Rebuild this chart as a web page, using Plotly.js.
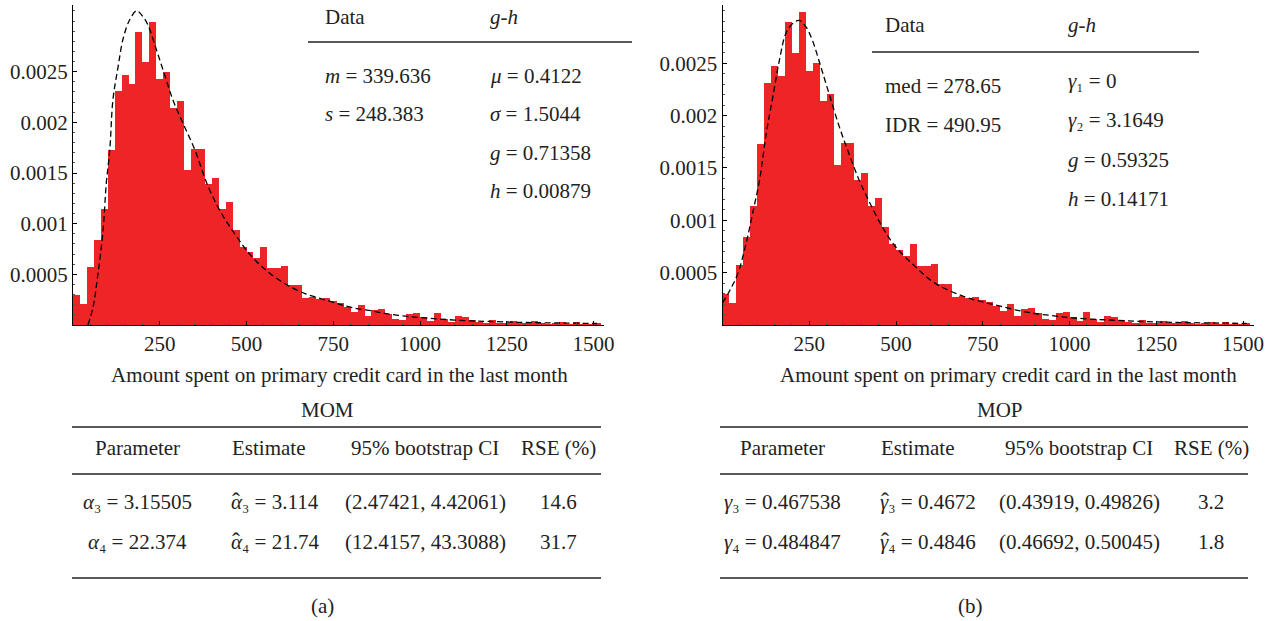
<!DOCTYPE html>
<html>
<head>
<meta charset="utf-8">
<script src="https://cdn.plot.ly/plotly-3.0.1.min.js"></script>
<style>html,body{margin:0;padding:0;background:#fff;}#chart{width:1274px;height:621px;}</style>
</head>
<body>
<div id="chart"></div>
<script>
// ---- data ----
const binLeft = [0,20,40,60,80,100,120,140,160,180,200,220,240,260,280,300,320,340,360,380,
  400,420,440,460,480,500,520,540,560,580,600,620,640,660,680,700,720,740,760,780,
  800,820,840,860,880,900,920,940,960,980,1000,1020,1040,1060,1080,1100,1120,1140,1160,1180,
  1200,1220,1240,1260,1280,1300,1320,1340,1360,1380,1400,1420,1440,1460,1480,1500];
const density = [0.00030,0.00021,0.00057,0.00084,0.00114,0.00173,0.00231,0.00247,0.00238,0.00289,
  0.00260,0.00299,0.00243,0.00250,0.00214,0.00221,0.00153,0.00174,0.00174,0.00139,
  0.00145,0.00114,0.00121,0.00094,0.00077,0.00072,0.00066,0.00077,0.00056,0.00056,
  0.00058,0.00039,0.00039,0.00027,0.00028,0.00026,0.00027,0.00024,0.00022,0.00018,
  0.00013,0.00020,0.00009,0.00015,0.00016,0.00011,0.00006,0.00005,0.00011,0.00012,
  0.00008,0.00004,0.00012,0.00006,0.00003,0.00009,0.00008,0.00005,0.00003,0.00002,
  0.00005,0.00002,0.00002,0.00004,0.00002,0.00002,0.00004,0.00002,0.00001,0.00002,
  0.00003,0.00001,0.00003,0.00001,0.00001,0.00002];

const momX = [43,58,72,86,96,106,115,130,144,163,183,200,216,240,264,288,317,351,389,428,466,504,543,600,668,735,783,821,860,898,937,975,1014,1052,1129,1200,1300,1400,1510];
const momY = [0,0.00018,0.00051,0.00091,0.0014,0.00173,0.00222,0.00255,0.00282,0.00301,0.0031,0.00305,0.00296,0.00272,0.00247,0.00222,0.00199,0.00173,0.00137,0.0011,0.0009,0.00072,0.00058,0.00043,0.00031,0.00024,0.00019,0.00016,0.00014,0.000115,0.000095,0.00008,0.00007,0.00006,0.000043,0.000035,0.000025,0.00002,0.000015];

const mopX = [0,21,44,68,87,107,126,145,164,183,202,221,240,259,283,307,336,364,393,421,460,498,555,612,698,750,800,850,900,950,1000,1100,1200,1300,1400,1510];
const mopY = [0.00021,0.00033,0.00049,0.00078,0.00107,0.00139,0.00183,0.00218,0.00253,0.00279,0.00288,0.00291,0.00285,0.00272,0.00247,0.00221,0.0019,0.00164,0.00139,0.00119,0.00094,0.00075,0.00056,0.0004,0.00027,0.00022,0.00018,0.00014,0.00011,0.00009,0.00007,0.00005,0.000035,0.000025,0.00002,0.000015];

const xTickVals = [250,500,750,1000,1250,1500];
const xTickText = ["250","500","750","1000","1250","1500"];
const yTickVals = [0.0005,0.001,0.0015,0.002,0.0025];
const yTickText = ["0.0005","0.001","0.0015","0.002","0.0025"];
const xTitle = "Amount spent on primary credit card in the last month";

const insetLeftData = ["<i>m</i> = 339.636", "<i>s</i> = 248.383"];
const insetLeftGH = ["<i>μ</i> = 0.4122", "<i>σ</i> = 1.5044", "<i>g</i> = 0.71358", "<i>h</i> = 0.00879"];
const insetRightData = ["med = 278.65", "IDR = 490.95"];
const insetRightGH = ["<i>γ</i>₁ = 0", "<i>γ</i>₂ = 3.1649", "<i>g</i> = 0.59325", "<i>h</i> = 0.14171"];

const tableHeader = ["Parameter", "Estimate", "95% bootstrap CI", "RSE (%)"];
const momRows = [
  ["<i>α</i>₃ = 3.15505", "<i>α</i>₃ = 3.114", "(2.47421, 4.42061)", "14.6"],
  ["<i>α</i>₄ = 22.374", "<i>α</i>₄ = 21.74", "(12.4157, 43.3088)", "31.7"]
];
const mopRows = [
  ["<i>γ</i>₃ = 0.467538", "<i>γ</i>₃ = 0.4672", "(0.43919, 0.49826)", "3.2"],
  ["<i>γ</i>₄ = 0.484847", "<i>γ</i>₄ = 0.4846", "(0.46692, 0.50045)", "1.8"]
];
const hatMark = "ˆ";

// ---- layout helpers ----
const W = 1274, H = 621;
const px = v => v / W;
const py = v => 1 - v / H;
const FONT = "Liberation Serif, Times New Roman, serif";
const FS = 21;
const TXT = "#222";
const RED = "#ee2426";

const traces = [
  {type:"bar", x:binLeft, y:density, offset:0, width:20, xaxis:"x", yaxis:"y",
   marker:{color:RED, line:{width:0}}, hoverinfo:"skip"},
  {type:"scatter", mode:"lines", x:momX, y:momY, xaxis:"x", yaxis:"y",
   line:{color:"#000", width:1.3, dash:"6px,3.5px", shape:"spline"}, hoverinfo:"skip"},
  {type:"bar", x:binLeft, y:density, offset:0, width:20, xaxis:"x2", yaxis:"y2",
   marker:{color:RED, line:{width:0}}, hoverinfo:"skip"},
  {type:"scatter", mode:"lines", x:mopX, y:mopY, xaxis:"x2", yaxis:"y2",
   line:{color:"#000", width:1.3, dash:"6px,3.5px", shape:"spline"}, hoverinfo:"skip"}
];

function xAxis(domain, anchor){
  return {domain:domain, anchor:anchor, range:[0,1530], showgrid:false, zeroline:false,
    showline:true, linecolor:"#000", linewidth:1, ticks:"inside", ticklen:4, tickcolor:"#000",
    tickvals:xTickVals, ticktext:xTickText, tickfont:{family:FONT, size:FS, color:TXT},
    minor:{ticks:"inside", ticklen:2, dtick:50, tickcolor:"#555", showgrid:false}};
}
function yAxis(domain, anchor, top){
  return {domain:domain, anchor:anchor, range:[0,top], showgrid:false, zeroline:false,
    showline:true, linecolor:"#000", linewidth:1, ticks:"inside", ticklen:4, tickcolor:"#000",
    tickvals:yTickVals, ticktext:yTickText, tickfont:{family:FONT, size:FS, color:TXT},
    minor:{ticks:"inside", ticklen:2, dtick:0.0001, tickcolor:"#555", showgrid:false}};
}

const yDom = [py(325), py(5)];
const annotations = [];
const shapes = [];
function txt(x, y, t, anchor, size){
  annotations.push({xref:"paper", yref:"paper", x:px(x), y:py(y), text:t, showarrow:false,
    xanchor:anchor||"center", yanchor:"middle", font:{family:FONT, size:size||FS, color:TXT}});
}
function rule(x0, x1, y){
  shapes.push({type:"line", xref:"paper", yref:"paper", x0:px(x0), x1:px(x1), y0:py(y), y1:py(y),
    line:{color:"#222", width:1.5}});
}

// axis titles
txt(339, 375, xTitle);
txt(1008, 375, xTitle);

// left inset
txt(323, 17, "Data", "left");
txt(488, 17, "<i>g-h</i>", "left");
rule(308, 632, 42);
insetLeftData.forEach((t,i)=>txt(323, 76 + i*37.5, t, "left"));
insetLeftGH.forEach((t,i)=>txt(488, 76 + i*38.3, t, "left"));

// right inset
txt(883, 25, "Data", "left");
txt(1066, 25, "<i>g-h</i>", "left");
rule(872, 1199, 52);
insetRightData.forEach((t,i)=>txt(883, 86 + i*39, t, "left"));
insetRightGH.forEach((t,i)=>txt(1066, 81 + i*39.3, t, "left"));

// tables
function table(title, titleX, x0, x1, cols, estStart, rows, label, labelX){
  txt(titleX, 410, title);
  rule(x0, x1, 427);
  tableHeader.forEach((t,i)=>txt(cols[i], 448, t));
  rule(x0, x1, 474);
  rows.forEach((r,j)=>{
    const y = 502 + j*40;
    r.forEach((t,i)=>{
      if (i === 1) {
        txt(estStart, y, t, "left");
        txt(estStart + 6.5, y - 1, hatMark, "center", 24);
      } else {
        txt(cols[i], y, t);
      }
    });
  });
  rule(x0, x1, 578);
  txt(labelX, 606, label);
}
table("MOM", 327, 72, 601, [137, 268, 425, 558], 229, momRows, "(a)", 322);
table("MOP", 1000, 720, 1248, [782, 918, 1079, 1211], 878, mopRows, "(b)", 970);

const layout = {
  width:W, height:H, margin:{l:0, r:0, t:0, b:0},
  paper_bgcolor:"#fff", plot_bgcolor:"#fff", showlegend:false, bargap:0,
  xaxis: xAxis([px(73), px(604)], "y"),
  yaxis: yAxis(yDom, "x", 0.003158),
  xaxis2: xAxis([px(722.5), px(1253.5)], "y2"),
  yaxis2: yAxis(yDom, "x2", 0.003057),
  annotations: annotations, shapes: shapes
};

Plotly.newPlot("chart", traces, layout, {displayModeBar:false, staticPlot:true});
</script>
</body>
</html>
